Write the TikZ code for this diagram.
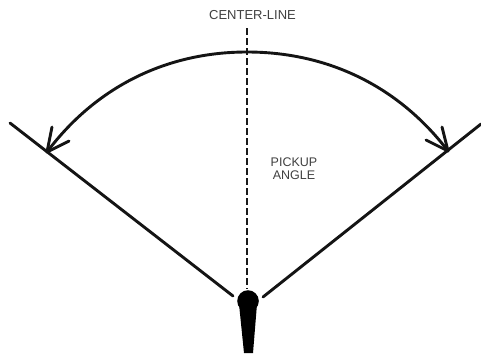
\documentclass[tikz,border=0pt]{standalone}
\usepackage{fontspec}
\setmainfont{Liberation Sans}
\begin{document}
\begin{tikzpicture}[x=1pt,y=-1pt,
  heavy/.style={line width=2.9pt,line cap=round,line join=round,black!92},
  lbl/.style={inner sep=0pt,align=center,text=black!75}]
\useasboundingbox (0,0) rectangle (481,354);
\coordinate (cl1) at (247,28);
\coordinate (cl2) at (247,289);
\coordinate (ll1) at (10,123);
\coordinate (ll2) at (233,296);
\coordinate (rl1) at (481,124);
\coordinate (rl2) at (263,297);
\coordinate (lt) at (47,152);
\coordinate (rt) at (448,151);
\coordinate (lb1) at (52,127);
\coordinate (lb2) at (69,141);
\coordinate (rb1) at (442,127);
\coordinate (rb2) at (426,140);
\draw[line width=1.8pt,black!90,dash pattern=on 6.5pt off 3.5pt] (cl1) -- (cl2);
\draw[heavy] (ll1) -- (ll2);
\draw[heavy] (rl1) -- (rl2);
\draw[heavy] (lt) .. controls (95,88) and (165,52) .. (247,52) .. controls (330,52) and (400,88) .. (rt);
\draw[heavy] (lb1) -- (lt) -- (lb2);
\draw[heavy] (rb1) -- (rt) -- (rb2);
\fill[black] (248,301) circle[radius=10.8];
\fill[black] (239,304) -- (257,304) -- (253,353) -- (244,353) -- cycle;
\node[lbl,font=\fontsize{13}{15}\selectfont] (cltext) at (252.5,15.5) {CENTER-LINE};
\node[lbl,font=\fontsize{12.5}{13}\selectfont] (pickup) at (294,169) {PICKUP\\ANGLE};
\end{tikzpicture}
\end{document}
